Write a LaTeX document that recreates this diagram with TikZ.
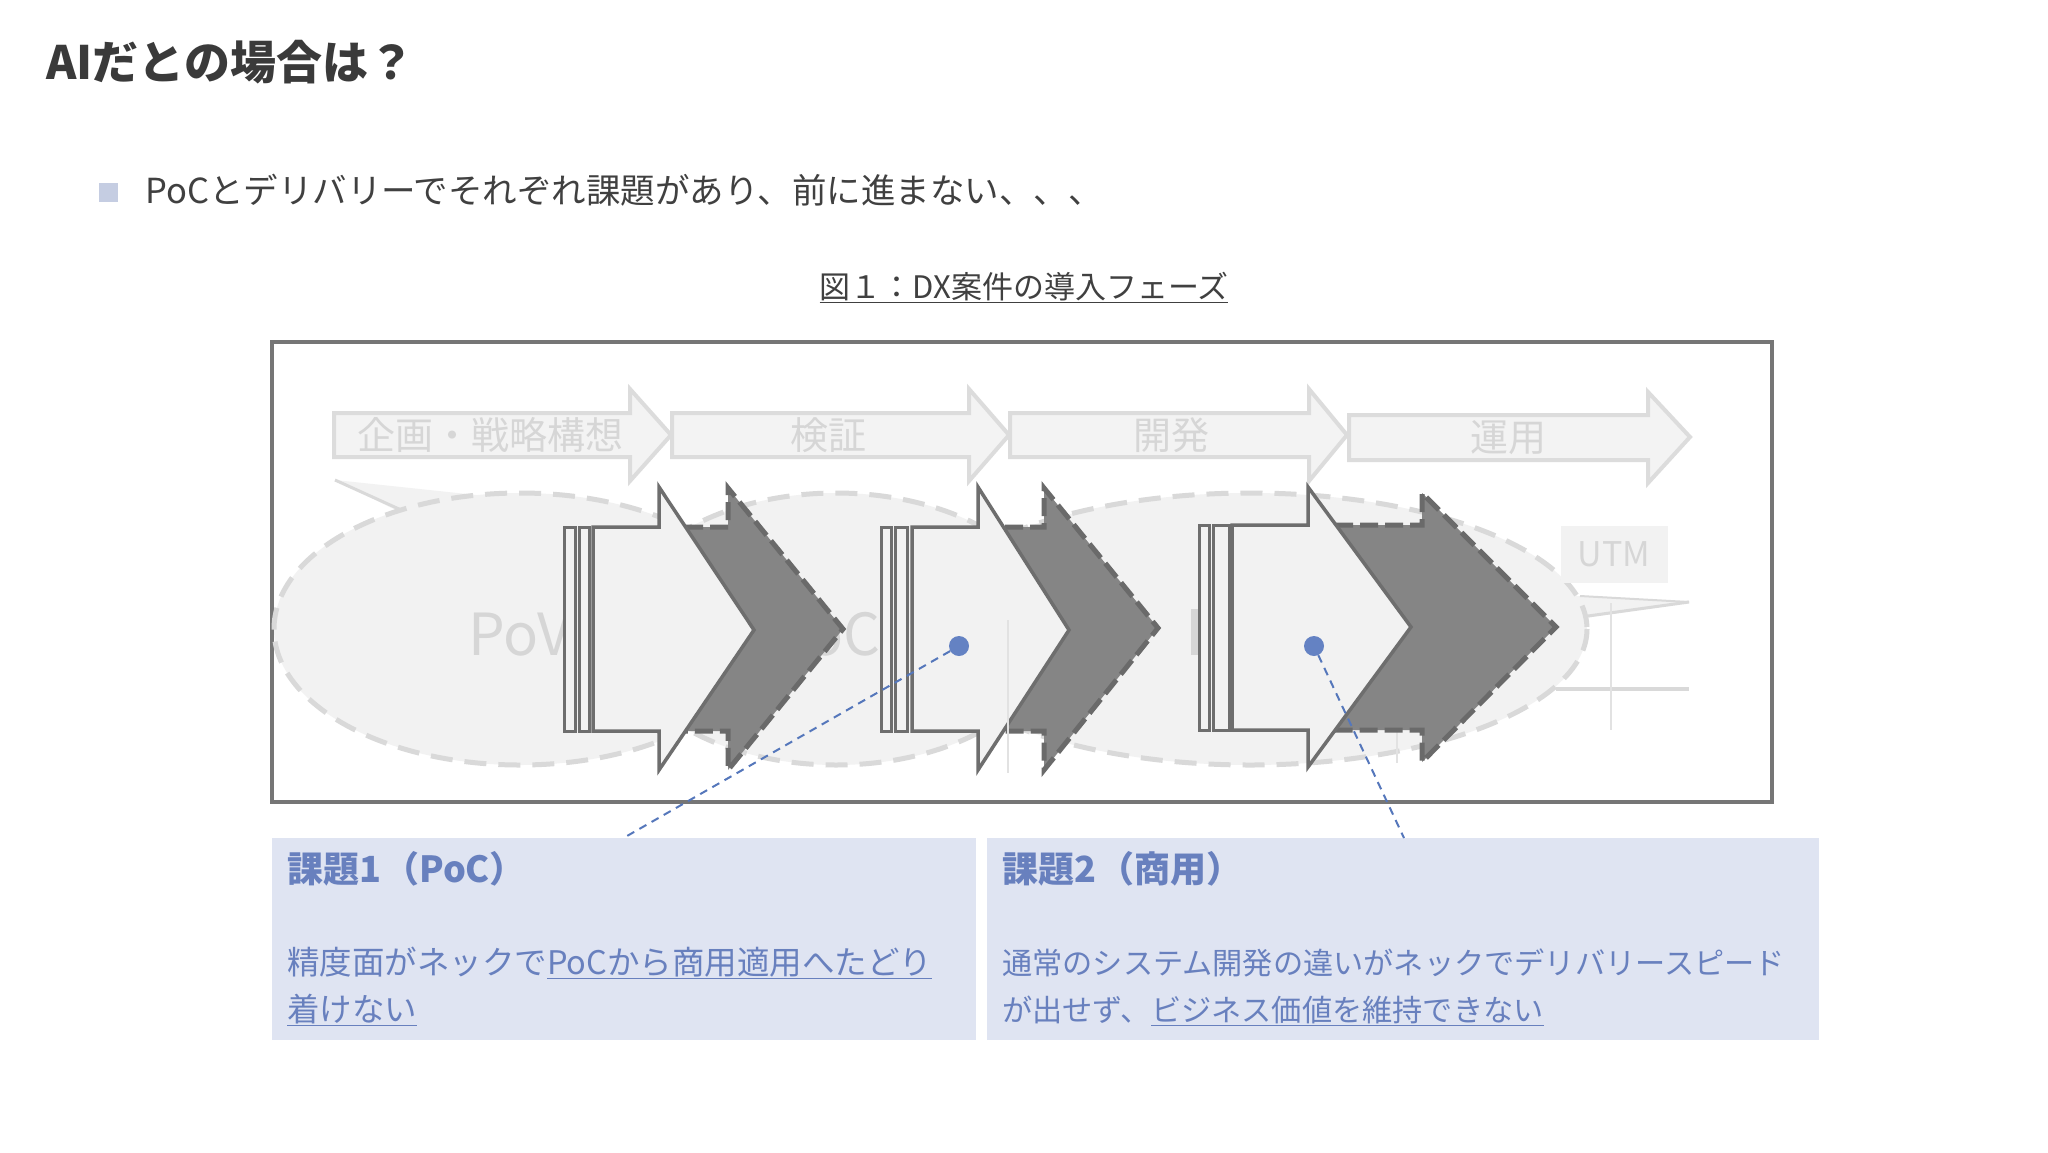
\documentclass[tikz,border=0pt]{standalone}
\usepackage{fontspec}
\setmainfont{Noto Sans CJK JP}
\usetikzlibrary{calc}
\definecolor{titlec}{HTML}{3A3A3A}
\definecolor{bodyc}{HTML}{404040}
\definecolor{framec}{HTML}{767676}
\definecolor{tafill}{HTML}{F3F3F3}
\definecolor{tadraw}{HTML}{DCDCDC}
\definecolor{tatext}{HTML}{D6D6D6}
\definecolor{ellfill}{HTML}{F2F2F2}
\definecolor{elldraw}{HTML}{D9D9D9}
\definecolor{faint}{HTML}{E2E2E2}
\definecolor{darkfill}{HTML}{858585}
\definecolor{darkdraw}{HTML}{6A6A6A}
\definecolor{whfill}{HTML}{F2F2F2}
\definecolor{whdraw}{HTML}{6E6E6E}
\definecolor{dotc}{HTML}{6482C3}
\definecolor{dashc}{HTML}{5577BB}
\definecolor{boxfill}{HTML}{DFE4F2}
\definecolor{boxtext}{HTML}{6880BE}
\definecolor{bulletc}{HTML}{C5CDE2}
\tikzset{
  toparrow/.style={fill=tafill,draw=tadraw,line width=4pt,line join=miter},
  toptext/.style={text=tatext,font=\fontsize{38}{44}\selectfont,anchor=base,inner sep=0pt},
  ellshape/.style={fill=ellfill,draw=elldraw,line width=5pt,dash pattern=on 22pt off 12pt},
  tailfill/.style={fill=ellfill},
  tailline/.style={draw=elldraw,line width=3pt},
  faintline/.style={draw=faint,line width=1.5pt},
  darkarrow/.style={fill=darkfill,draw=darkdraw,line width=5pt,dash pattern=on 18pt off 7pt},
  wharrow/.style={fill=whfill,draw=whdraw,line width=3.5pt,line join=miter},
  brack/.style={fill=whfill,draw=whdraw,line width=3pt},
  bluedot/.style={circle,fill=dotc,inner sep=0pt,minimum size=20pt},
  blueline/.style={draw=dashc,line width=2pt,dash pattern=on 8pt off 6pt},
  issuebox/.style={fill=boxfill,draw=none},
  boxhead/.style={text=boxtext,font=\bfseries\fontsize{36}{40}\selectfont,anchor=base west,inner sep=0pt},
  boxbodyA/.style={text=boxtext,font=\fontsize{32.5}{36}\selectfont,anchor=base west,inner sep=0pt},
  boxbodyB/.style={text=boxtext,font=\fontsize{30.2}{36}\selectfont,anchor=base west,inner sep=0pt},
}
\begin{document}
\begin{tikzpicture}[x=1pt,y=-1pt]
\useasboundingbox (0,0) rectangle (2048,1152);
\fill[white] (0,0) rectangle (2048,1152);

% title and bullet
\node[anchor=base west,inner sep=0pt,text=titlec,font=\bfseries\fontsize{46}{52}\selectfont] (title) at (46,79) {AIだとの場合は？};
\node[fill=bulletc,inner sep=0pt,minimum size=19pt] (bul) at (108.5,192.5) {};
\node[anchor=base west,inner sep=0pt,text=bodyc,font=\fontsize{34.5}{40}\selectfont] (btext) at (145,203) {PoCとデリバリーでそれぞれ課題があり、前に進まない、、、};
\node[anchor=base,inner sep=0pt,text=bodyc,font=\fontsize{31}{36}\selectfont] (cap) at (1024,298) {\underline{図１：DX案件の導入フェーズ}};

% frame
\draw[draw=framec,line width=3.5pt] (272,342) rectangle (1772,802);

% top phase arrows
\draw[toparrow] (334,413) -- (630,413) -- (630,389) -- (671,435) -- (630,481) -- (630,457) -- (334,457) -- cycle;
\draw[toparrow] (672,413) -- (969,413) -- (969,389) -- (1009,435) -- (969,481) -- (969,457) -- (672,457) -- cycle;
\draw[toparrow] (1010,413) -- (1309,413) -- (1309,389) -- (1347,435) -- (1309,481) -- (1309,457) -- (1010,457) -- cycle;
\draw[toparrow] (1349,415) -- (1648,415) -- (1648,392) -- (1690,437) -- (1648,483) -- (1648,460) -- (1349,460) -- cycle;
\node[toptext] (t1) at (490,449) {企画・戦略構想};
\node[toptext] (t2) at (828,449) {検証};
\node[toptext] (t3) at (1171,449) {開発};
\node[toptext] (t4) at (1508,451) {運用};

% callout tails
\fill[tailfill] (335,480) -- (495,497) -- (408,516) -- cycle;
\draw[tailline] (335,480) -- (410,514);
\fill[tailfill] (1575,596) -- (1689,602) -- (1585,618) -- cycle;
\draw[draw=elldraw,line width=2pt] (1580,596) -- (1689,602);
\draw[tailline] (1689,602) -- (1588,616);

% callout ellipses
\draw[ellshape] (836,629) ellipse [x radius=220, y radius=136];
\draw[ellshape] (520,629) ellipse [x radius=246, y radius=136];
\draw[ellshape] (1250,629) ellipse [x radius=337, y radius=136];

% faded labels
\node[anchor=base west,inner sep=0pt,text=tatext,font=\fontsize{58}{64}\selectfont] (pov) at (468,655) {PoV};
\node[anchor=base east,inner sep=0pt,text=tatext,font=\fontsize{58}{64}\selectfont] (poc) at (881,655) {PoC};
\fill[tatext] (1191,609) rectangle (1200,655);
\node[fill=ellfill,inner sep=0pt,minimum width=107pt,minimum height=57pt] (utmbox) at (1614,554) {};
\node[inner sep=0pt,text=tatext,font=\fontsize{34}{40}\selectfont] (utm) at (utmbox) {UTM};

% faint leftover lines
\draw[draw=elldraw,line width=4pt] (1556,689) -- (1689,689);
\draw[faintline] (1611,603) -- (1611,730);
\draw[faintline] (1397,730) -- (1397,763);

% group 1
\draw[darkarrow] (660,527) -- (728,527) -- (728,488) -- (843,629) -- (728,770) -- (728,731) -- (660,731) -- cycle;
\draw[brack] (564,527) rectangle (575,731);
\draw[brack] (579,527) rectangle (589,731);
\draw[wharrow] (593,527) -- (659,527) -- (659,487) -- (754,630) -- (659,770) -- (659,731) -- (593,731) -- cycle;

% group 2
\draw[darkarrow] (980,527) -- (1044,527) -- (1044,488) -- (1158,628) -- (1044,770) -- (1044,731) -- (980,731) -- cycle;
\draw[brack] (881,527) rectangle (891,731);
\draw[brack] (895,527) rectangle (907,731);
\draw[wharrow] (912,527) -- (978,527) -- (978,487) -- (1069,630) -- (978,770) -- (978,731) -- (912,731) -- cycle;

% group 3
\draw[darkarrow] (1310,525) -- (1422,525) -- (1422,493) -- (1556,627) -- (1422,762) -- (1422,730) -- (1310,730) -- cycle;
\draw[brack] (1199,525) rectangle (1209,730);
\draw[brack] (1213,525) rectangle (1229,730);
\draw[wharrow] (1232,525) -- (1308,525) -- (1308,487) -- (1411,627) -- (1308,767) -- (1308,730) -- (1232,730) -- cycle;

\draw[faintline] (1008,620) -- (1008,773);

% issue boxes
\node[issuebox,anchor=north west,minimum width=704pt,minimum height=202pt,inner sep=0pt] (box1) at (272,838) {};
\node[issuebox,anchor=north west,minimum width=832pt,minimum height=202pt,inner sep=0pt] (box2) at (987,838) {};
\node[boxhead] (h1) at (287,882) {課題1\kern2pt（PoC）};
\node[boxbodyA] (b1a) at (287,974) {精度面がネックで\underline{PoCから商用適用へたどり}};
\node[boxbodyA] (b1b) at (287,1021) {\underline{着けない}};
\node[boxhead] (h2) at (1002,882) {課題2\kern2pt（商用）};
\node[boxbodyB] (b2a) at (1002,974) {通常のシステム開発の違いがネックでデリバリースピード};
\node[boxbodyB] (b2b) at (1002,1021) {が出せず、\underline{ビジネス価値を維持できない}};

% dots and leader lines
\node[bluedot] (dot1) at (959,646) {};
\node[bluedot] (dot2) at (1314,646) {};
\coordinate (end1) at (627,836);
\coordinate (end2) at (1404,838);
\draw[blueline] (dot1) -- (end1);
\draw[blueline] (dot2) -- (end2);
\end{tikzpicture}
\end{document}
